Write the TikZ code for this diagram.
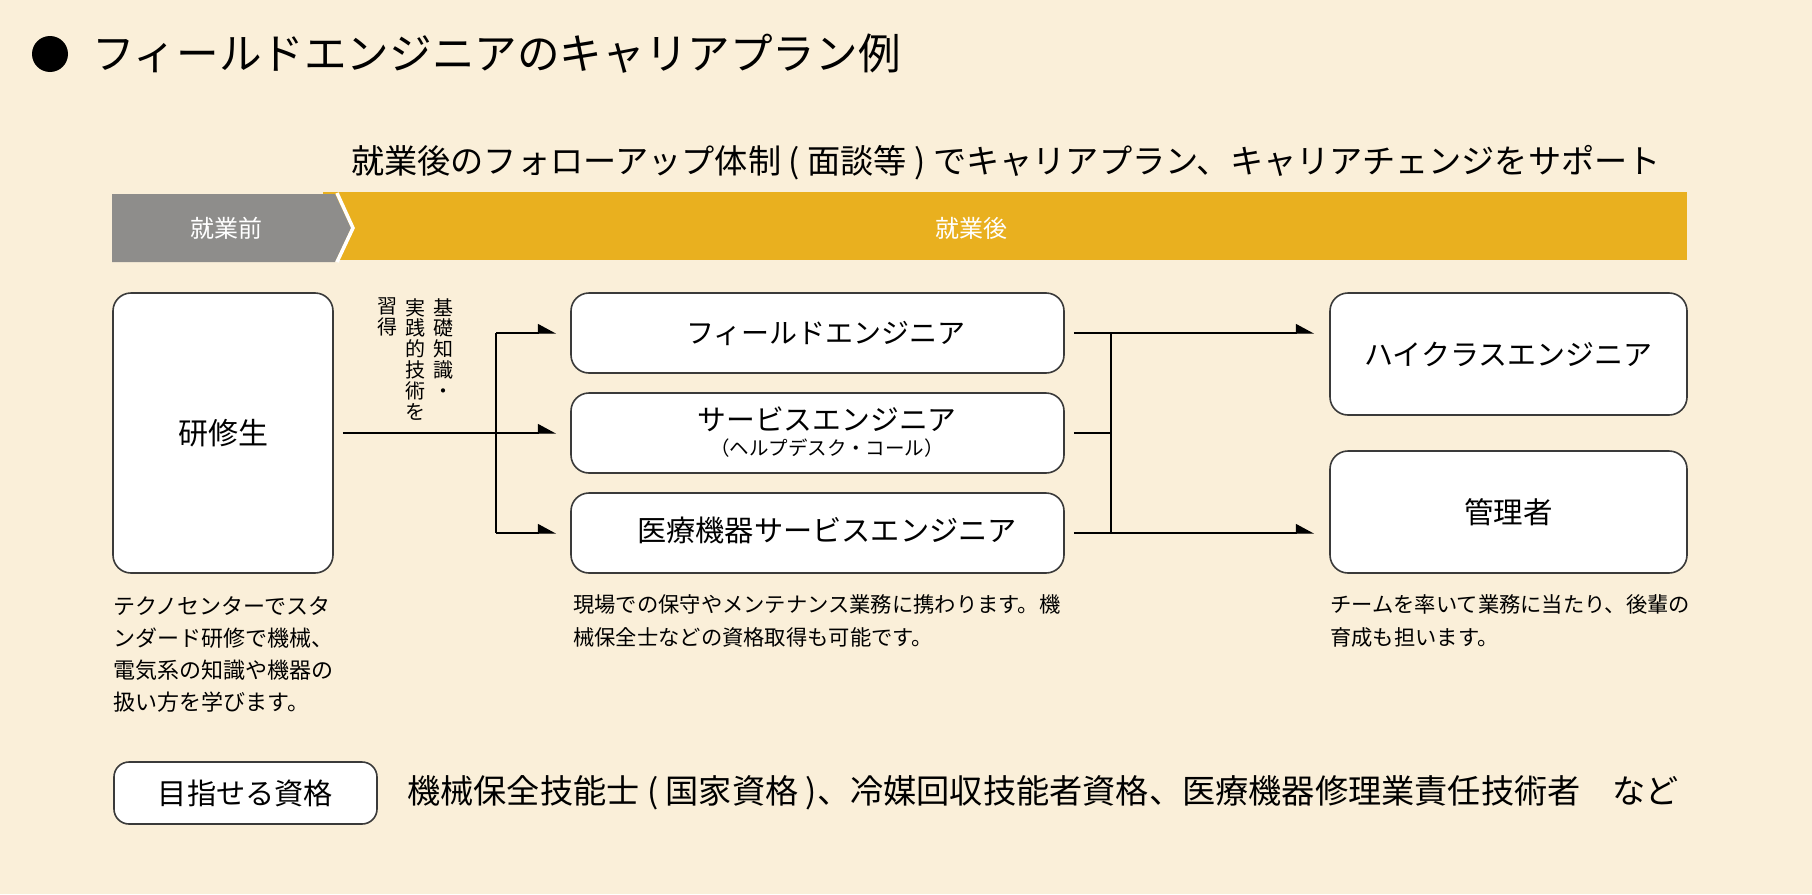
\documentclass[tikz,border=0pt]{standalone}
\usepackage{fontspec}
\setmainfont{Noto Sans CJK JP}
\usetikzlibrary{arrows.meta,calc}
\definecolor{bg}{HTML}{FAEFD9}
\definecolor{gold}{HTML}{E9B01F}
\definecolor{bandgray}{HTML}{8E8D8B}
\definecolor{boxline}{HTML}{3A3A3A}
\newcommand\fsz[2]{\fontsize{#1pt}{#2pt}\selectfont}
\begin{document}
\begin{tikzpicture}[x=1pt,y=-1pt,
  box/.style={draw=boxline, line width=1.6pt, fill=white, rounded corners=18pt, inner sep=0pt},
  conn/.style={line width=1.4pt, black},
  arr/.style={conn, -{Triangle[harpoon, length=17pt, width=18pt]}},
  lbl/.style={inner sep=0pt, text=black},
  desc/.style={lbl, anchor=north west, align=left},
  vtext/.style={lbl, anchor=north, align=center, font=\fsz{20}{20.8}},
]
\fill[bg] (0,0) rectangle (1812,894);
\useasboundingbox (0,0) rectangle (1812,894);

% title
\node[circle, fill=black, minimum size=36pt, inner sep=0pt] (bullet) at (50,54) {};
\node[lbl, anchor=west, font=\fsz{42.6}{50}] (title) at (92,54) {フィールドエンジニアのキャリアプラン例};

% subtitle
\node[lbl, font=\fsz{33.2}{40}] (sub) at (1006,163) {就業後のフォローアップ体制 ( 面談等 ) でキャリアプラン、キャリアチェンジをサポート};

% band
\fill[gold] (323,192) rectangle (1687,260);
\fill[bandgray] (112,194) -- (335,194) -- (351,228) -- (335,262) -- (112,262) -- cycle;
\draw[white, line width=3.5pt] (337,193) -- (353,228) -- (337,262);
\node[lbl, text=white, font=\fsz{24}{28}] (pre) at (226,228) {就業前};
\node[lbl, text=white, font=\fsz{24}{28}] (post) at (971,228) {就業後};

% boxes
\node[box, minimum width=220pt, minimum height=280pt, font=\fsz{30}{36}] (trainee) at (223,433) {研修生};
\node[box, minimum width=493pt, minimum height=80pt] (fe) at (817.5,333) {};
\node[box, minimum width=493pt, minimum height=80pt] (se) at (817.5,433) {};
\node[box, minimum width=493pt, minimum height=80pt] (me) at (817.5,533) {};
\node[lbl, font=\fsz{28}{34}] (fe-t) at (826,333) {フィールドエンジニア};
\node[lbl, font=\fsz{28.8}{34}] (se-t) at (827,419) {サービスエンジニア};
\node[lbl, font=\fsz{19.5}{22}] (se-s) at (827,448) {（ヘルプデスク・コール）};
\node[lbl, font=\fsz{29.2}{34}] (me-t) at (827,530) {医療機器サービスエンジニア};
\node[box, minimum width=357pt, minimum height=122pt, font=\fsz{29}{34}] (hc) at (1508.5,354) {ハイクラスエンジニア};
\node[box, minimum width=357pt, minimum height=122pt, font=\fsz{29.5}{34}] (mg) at (1508.5,512) {管理者};

% vertical text
\node[vtext] (v1) at (443,298) {基\\礎\\知\\識\\・};
\node[vtext] (v2) at (415,298) {実\\践\\的\\技\\術\\を};
\node[vtext] (v3) at (387,298) {習\\得};

% connectors left
\coordinate (jl) at (496,433);
\coordinate (jr) at (1111,433);
\draw[arr, shorten <=9pt, shorten >=14pt] (trainee.east) -- (se.west);
\draw[conn] (jl |- fe.west) -- (jl |- me.west);
\draw[arr, shorten >=14pt] (jl |- fe.west) -- (fe.west);
\draw[arr, shorten >=14pt] (jl |- me.west) -- (me.west);
% connectors right
\draw[arr, shorten <=9pt, shorten >=15pt] (fe.east) -- (fe.east -| hc.west);
\draw[arr, shorten <=9pt, shorten >=15pt] (me.east) -- (me.east -| mg.west);
\draw[conn, shorten <=9pt] (se.east) -- (jr);
\draw[conn] (jr |- fe.east) -- (jr |- me.east);

% descriptions
\node[desc, font=\fsz{22}{32}] (d1) at (113,596) {テクノセンターでスタ\\ンダード研修で機械、\\電気系の知識や機器の\\扱い方を学びます。};
\node[desc, font=\fsz{21.3}{33}] (d2) at (573,594) {現場での保守やメンテナンス業務に携わります。機\\械保全士などの資格取得も可能です。};
\node[desc, font=\fsz{21.3}{33}] (d3) at (1330,594) {チームを率いて業務に当たり、後輩の\\育成も担います。};

% qualifications
\node[box, rounded corners=15pt, minimum width=263pt, minimum height=62pt, font=\fsz{29.2}{34}] (goal) at (245.5,793) {目指せる資格};
\node[lbl, anchor=west, font=\fsz{33.2}{38}] (quals) at (407,793) {機械保全技能士 ( 国家資格 )、冷媒回収技能者資格、医療機器修理業責任技術者\hspace{32pt}など};
\end{tikzpicture}
\end{document}
